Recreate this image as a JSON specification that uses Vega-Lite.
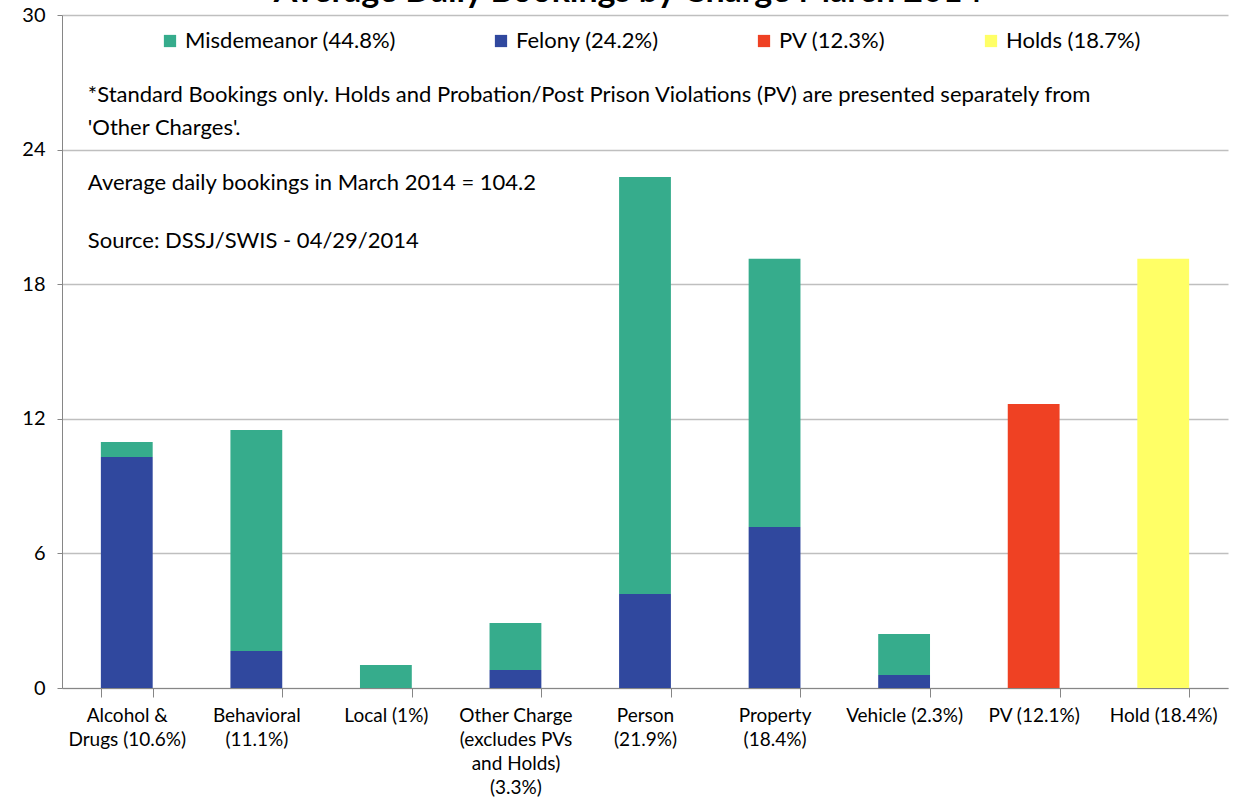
{
  "$schema": "https://vega.github.io/schema/vega-lite/v6.json",
  "width": 1166,
  "height": 673,
  "autosize": "none",
  "padding": {"left": 62, "top": 15, "right": 7, "bottom": 119},
  "background": "white",
  "title": {
    "text": "Average Daily Bookings by Charge March 2014",
    "font": "Lato",
    "fontSize": 34,
    "fontWeight": "bold",
    "color": "#000000",
    "frame": "group",
    "anchor": "middle",
    "baseline": "alphabetic",
    "offset": 0,
    "dx": -17,
    "dy": 31
  },
  "config": {
    "view": {"stroke": null},
    "font": "Lato"
  },
  "data": {
    "values": [
      {"cat": "Alcohol &|Drugs (10.6%)", "type": "Felony (24.2%)", "value": 10.3},
      {"cat": "Alcohol &|Drugs (10.6%)", "type": "Misdemeanor (44.8%)", "value": 0.67},
      {"cat": "Behavioral|(11.1%)", "type": "Felony (24.2%)", "value": 1.65},
      {"cat": "Behavioral|(11.1%)", "type": "Misdemeanor (44.8%)", "value": 9.85},
      {"cat": "Local (1%)", "type": "Misdemeanor (44.8%)", "value": 1.03},
      {"cat": "Other Charge|(excludes PVs|and Holds)|(3.3%)", "type": "Felony (24.2%)", "value": 0.8},
      {"cat": "Other Charge|(excludes PVs|and Holds)|(3.3%)", "type": "Misdemeanor (44.8%)", "value": 2.1},
      {"cat": "Person|(21.9%)", "type": "Felony (24.2%)", "value": 4.19},
      {"cat": "Person|(21.9%)", "type": "Misdemeanor (44.8%)", "value": 18.59},
      {"cat": "Property|(18.4%)", "type": "Felony (24.2%)", "value": 7.18},
      {"cat": "Property|(18.4%)", "type": "Misdemeanor (44.8%)", "value": 11.95},
      {"cat": "Vehicle (2.3%)", "type": "Felony (24.2%)", "value": 0.58},
      {"cat": "Vehicle (2.3%)", "type": "Misdemeanor (44.8%)", "value": 1.83},
      {"cat": "PV (12.1%)", "type": "PV (12.3%)", "value": 12.66},
      {"cat": "Hold (18.4%)", "type": "Holds (18.7%)", "value": 19.13}
    ]
  },
  "layer": [
    {
      "mark": {"type": "bar"},
      "encoding": {
        "x": {
          "field": "cat",
          "type": "nominal",
          "sort": null,
          "scale": {
            "domain": ["Alcohol &|Drugs (10.6%)", "Behavioral|(11.1%)", "Local (1%)", "Other Charge|(excludes PVs|and Holds)|(3.3%)", "Person|(21.9%)", "Property|(18.4%)", "Vehicle (2.3%)", "PV (12.1%)", "Hold (18.4%)"],
            "paddingInner": 0.6,
            "paddingOuter": 0.3
          },
          "axis": {
            "title": null,
            "labelAngle": 0,
            "labelExpr": "split(datum.label, '|')",
            "labelFont": "Lato",
            "labelFontSize": 19,
            "labelColor": "#000000",
            "labelLineHeight": 24,
            "labelPadding": 9,
            "labelBaseline": "top",
            "labelLimit": 0,
            "tickBand": "extent",
            "tickSize": 9,
            "tickColor": "#868686",
            "domainColor": "#868686",
            "grid": false
          }
        },
        "y": {
          "field": "value",
          "type": "quantitative",
          "stack": "zero",
          "scale": {"domain": [0, 30], "nice": false},
          "axis": {
            "title": null,
            "values": [0, 6, 12, 18, 24, 30],
            "labelFont": "Lato",
            "labelFontSize": 20,
            "labelColor": "#000000",
            "labelPadding": 12,
            "tickSize": 5,
            "tickColor": "#868686",
            "domainColor": "#868686",
            "gridColor": "#BFBFBF",
            "gridWidth": 1.3
          }
        },
        "color": {
          "field": "type",
          "type": "nominal",
          "scale": {
            "domain": ["Misdemeanor (44.8%)", "Felony (24.2%)", "PV (12.3%)", "Holds (18.7%)"],
            "range": ["#36AC8C", "#30489E", "#EF4123", "#FFFF66"]
          },
          "legend": {
            "title": null,
            "orient": "none",
            "direction": "horizontal",
            "legendX": 97,
            "legendY": 15,
            "symbolType": "square",
            "symbolSize": 150,
            "symbolStrokeWidth": 0,
            "labelFont": "Lato",
            "labelFontSize": 22,
            "labelColor": "#000000",
            "labelOffset": 4,
            "labelLimit": 0,
            "columnPadding": 94
          }
        },
        "order": {"field": "type", "sort": "ascending"}
      }
    },
    {
      "data": {
        "values": [
          {"cat": "Alcohol &|Drugs (10.6%)", "y": 26.44, "note": "*Standard Bookings only. Holds and Probation/Post Prison Violations (PV) are presented separately from"},
          {"cat": "Alcohol &|Drugs (10.6%)", "y": 24.97, "note": "'Other Charges'."},
          {"cat": "Alcohol &|Drugs (10.6%)", "y": 22.51, "note": "Average daily bookings in March 2014 = 104.2"},
          {"cat": "Alcohol &|Drugs (10.6%)", "y": 19.93, "note": "Source: DSSJ/SWIS - 04/29/2014"}
        ]
      },
      "mark": {"type": "text", "align": "left", "baseline": "middle", "font": "Lato", "fontSize": 22, "color": "#000000", "dx": -13},
      "encoding": {
        "x": {"field": "cat", "type": "nominal", "bandPosition": 0},
        "y": {"field": "y", "type": "quantitative"},
        "text": {"field": "note"}
      }
    }
  ]
}
